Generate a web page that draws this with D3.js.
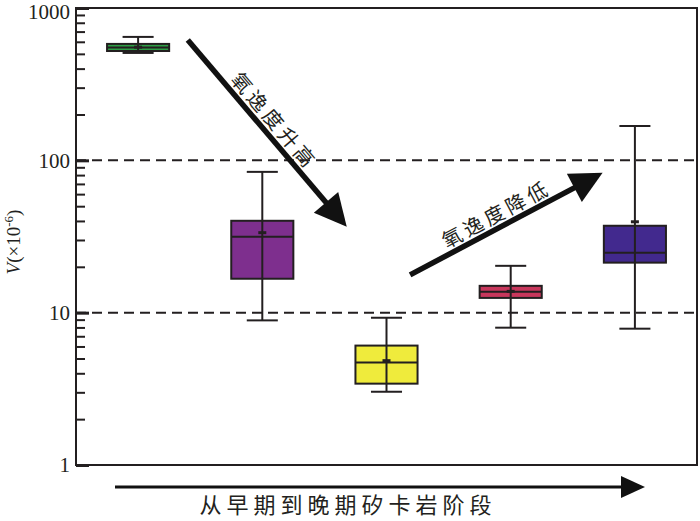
<!DOCTYPE html>
<html>
<head>
<meta charset="utf-8">
<script src="https://cdn.jsdelivr.net/npm/d3@7"></script>
<style>
  body { margin: 0; background: #fff; }
  svg text { fill: #231f20; }
</style>
</head>
<body>
<svg id="chart" width="700" height="521"></svg>
<script>
// stages, early -> late skarn
var stages = ['S1', 'S2', 'S3', 'S4', 'S5'];
var boxColors = ['#2e9e45', '#7e2f8e', '#efeb3c', '#c8375c', '#42298e'];
var whiskerLow = [507, 8.9, 3.03, 7.97, 7.85];
var q1 = [522, 16.7, 3.42, 12.5, 21.3];
var medians = [551, 31.5, 4.7, 13.7, 24.7];
var q3 = [581, 40.1, 6.08, 15.0, 37.2];
var whiskerHigh = [646, 84, 9.27, 20.3, 168];
var means = [553, 33.5, 4.84, 13.8, 39.5];

var majorTicks = [1, 10, 100, 1000];
var minorTicks = [2, 3, 4, 5, 6, 7, 8, 9, 20, 30, 40, 50, 60, 70, 80, 90, 200, 300, 400, 500, 600, 700, 800, 900];
var refLines = [10, 100];

// trend arrows, in stage-index / value units
var trendLabels = ['氧逸度升高', '氧逸度降低'];
var trendFrom = [[0.40, 617], [2.19, 17.7]];
var trendTo = [[1.68, 36.6], [3.74, 82.8]];

var INK = '#231f20';
var margin = { left: 76, right: 3, top: 8, bottom: 56 };
var W = 700, H = 521;

var svg = d3.select('#chart');

var x = d3.scaleBand()
    .domain(stages)
    .range([margin.left, W - margin.right])
    .padding(0);

var y = d3.scaleLog()
    .domain([1, 1000])
    .range([H - margin.bottom, margin.top]);

// continuous x for annotations (index units, 0 = first category centre)
var xi = d3.scaleLinear()
    .domain([0, 1])
    .range([x(stages[0]) + x.bandwidth() / 2, x(stages[1]) + x.bandwidth() / 2]);

// dashed reference lines
svg.selectAll('.ref')
    .data(refLines)
    .enter().append('line')
    .attr('class', 'ref')
    .attr('x1', margin.left)
    .attr('x2', W - margin.right)
    .attr('y1', function (d) { return y(d); })
    .attr('y2', function (d) { return y(d); })
    .style('stroke', INK)
    .style('stroke-width', 2)
    .style('stroke-dasharray', '10,6');

// minor ticks (inside)
svg.append('g')
    .attr('transform', 'translate(' + margin.left + ',0)')
    .call(d3.axisLeft(y).tickValues(minorTicks).tickSizeInner(-9).tickSizeOuter(0).tickFormat(''))
    .call(function (g) {
      g.select('.domain').remove();
      g.selectAll('line').style('stroke', INK).style('stroke-width', 2);
    });

// major ticks + labels
svg.append('g')
    .attr('transform', 'translate(' + margin.left + ',0)')
    .call(d3.axisLeft(y).tickValues(majorTicks).tickSizeInner(-13).tickSizeOuter(0).tickPadding(6).tickFormat(d3.format('d')))
    .call(function (g) {
      g.select('.domain').remove();
      g.selectAll('line').style('stroke', INK).style('stroke-width', 3);
      g.selectAll('text')
        .style('font-family', '"Liberation Serif", "DejaVu Serif", serif')
        .style('font-size', '21px')
        .style('fill', INK)
        .attr('dy', function (d) { return d === 1000 ? '0.52em' : '0.32em'; });
    });

// boxes
var bw = x.bandwidth() * 0.5;
var capW = x.bandwidth() * 0.25;

var box = svg.selectAll('.box')
    .data(stages)
    .enter().append('g')
    .attr('class', 'box')
    .attr('transform', function (d) { return 'translate(' + (x(d) + x.bandwidth() / 2) + ',0)'; });

box.append('rect')
    .attr('x', -bw / 2)
    .attr('width', bw)
    .attr('y', function (d, i) { return y(q3[i]); })
    .attr('height', function (d, i) { return y(q1[i]) - y(q3[i]); })
    .style('fill', function (d, i) { return boxColors[i]; })
    .style('stroke', INK)
    .style('stroke-width', 2);

box.append('line')
    .attr('x1', -bw / 2).attr('x2', bw / 2)
    .attr('y1', function (d, i) { return y(medians[i]); })
    .attr('y2', function (d, i) { return y(medians[i]); })
    .style('stroke', INK).style('stroke-width', 2);

box.append('line')
    .attr('x1', 0).attr('x2', 0)
    .attr('y1', function (d, i) { return y(whiskerLow[i]); })
    .attr('y2', function (d, i) { return y(whiskerHigh[i]); })
    .style('stroke', INK).style('stroke-width', 2);

box.selectAll('.cap')
    .data(function (d, i) { return [whiskerLow[i], whiskerHigh[i]]; })
    .enter().append('line')
    .attr('class', 'cap')
    .attr('x1', -capW / 2).attr('x2', capW / 2)
    .attr('y1', function (v) { return y(v); })
    .attr('y2', function (v) { return y(v); })
    .style('stroke', INK).style('stroke-width', 2);

box.append('line')
    .attr('x1', -4).attr('x2', 4)
    .attr('y1', function (d, i) { return y(means[i]); })
    .attr('y2', function (d, i) { return y(means[i]); })
    .style('stroke', INK).style('stroke-width', 3);

// frame
svg.append('rect')
    .attr('x', margin.left)
    .attr('y', margin.top)
    .attr('width', W - margin.right - margin.left)
    .attr('height', H - margin.bottom - margin.top)
    .style('fill', 'none')
    .style('stroke', INK)
    .style('stroke-width', 2);

// trend arrows with rotated labels
var HEAD_LEN = 32, HEAD_HALF = 16;
trendLabels.forEach(function (label, i) {
  var x0 = xi(trendFrom[i][0]), y0 = y(trendFrom[i][1]);
  var x1 = xi(trendTo[i][0]), y1 = y(trendTo[i][1]);
  var len = Math.sqrt((x1 - x0) * (x1 - x0) + (y1 - y0) * (y1 - y0));
  var ang = Math.atan2(y1 - y0, x1 - x0) * 180 / Math.PI;
  var g = svg.append('g')
      .attr('transform', 'translate(' + x0 + ',' + y0 + ') rotate(' + ang + ')');
  g.append('line')
      .attr('x1', 0).attr('y1', 0)
      .attr('x2', len - HEAD_LEN + 2).attr('y2', 0)
      .style('stroke', '#111').style('stroke-width', 5.5);
  g.append('path')
      .attr('d', 'M' + len + ',0L' + (len - HEAD_LEN) + ',' + (-HEAD_HALF) + 'L' + (len - HEAD_LEN) + ',' + HEAD_HALF + 'Z')
      .style('fill', '#111');
  g.append('text')
      .attr('x', len * 0.48)
      .attr('y', -6)
      .attr('text-anchor', 'middle')
      .style('font-family', '"Noto Sans CJK SC", sans-serif')
      .style('font-size', '20px')
      .style('letter-spacing', '4px')
      .text(label);
});

// bottom direction arrow and label
var bx0 = 115, bx1 = 645, by = 487;
svg.append('line')
    .attr('x1', bx0).attr('x2', bx1 - 20)
    .attr('y1', by).attr('y2', by)
    .style('stroke', '#111').style('stroke-width', 3);
svg.append('path')
    .attr('d', 'M' + bx1 + ',' + by + 'L' + (bx1 - 24) + ',' + (by - 11) + 'L' + (bx1 - 24) + ',' + (by + 11) + 'Z')
    .style('fill', '#111');
svg.append('text')
    .attr('x', 348)
    .attr('y', 513)
    .attr('text-anchor', 'middle')
    .style('font-family', '"Noto Sans CJK SC", sans-serif')
    .style('font-size', '22px')
    .style('letter-spacing', '5px')
    .text('从早期到晚期矽卡岩阶段');

// y-axis title
var yt = svg.append('text')
    .attr('transform', 'translate(20,242) rotate(-90)')
    .attr('text-anchor', 'middle')
    .style('font-family', '"Liberation Serif", "DejaVu Serif", serif')
    .style('font-size', '19px');
yt.append('tspan').style('font-style', 'italic').text('V');
yt.append('tspan').text('(×10');
yt.append('tspan').attr('dy', -7).style('font-size', '13px').text('-6');
yt.append('tspan').attr('dy', 7).text(')');
</script>
</body>
</html>
